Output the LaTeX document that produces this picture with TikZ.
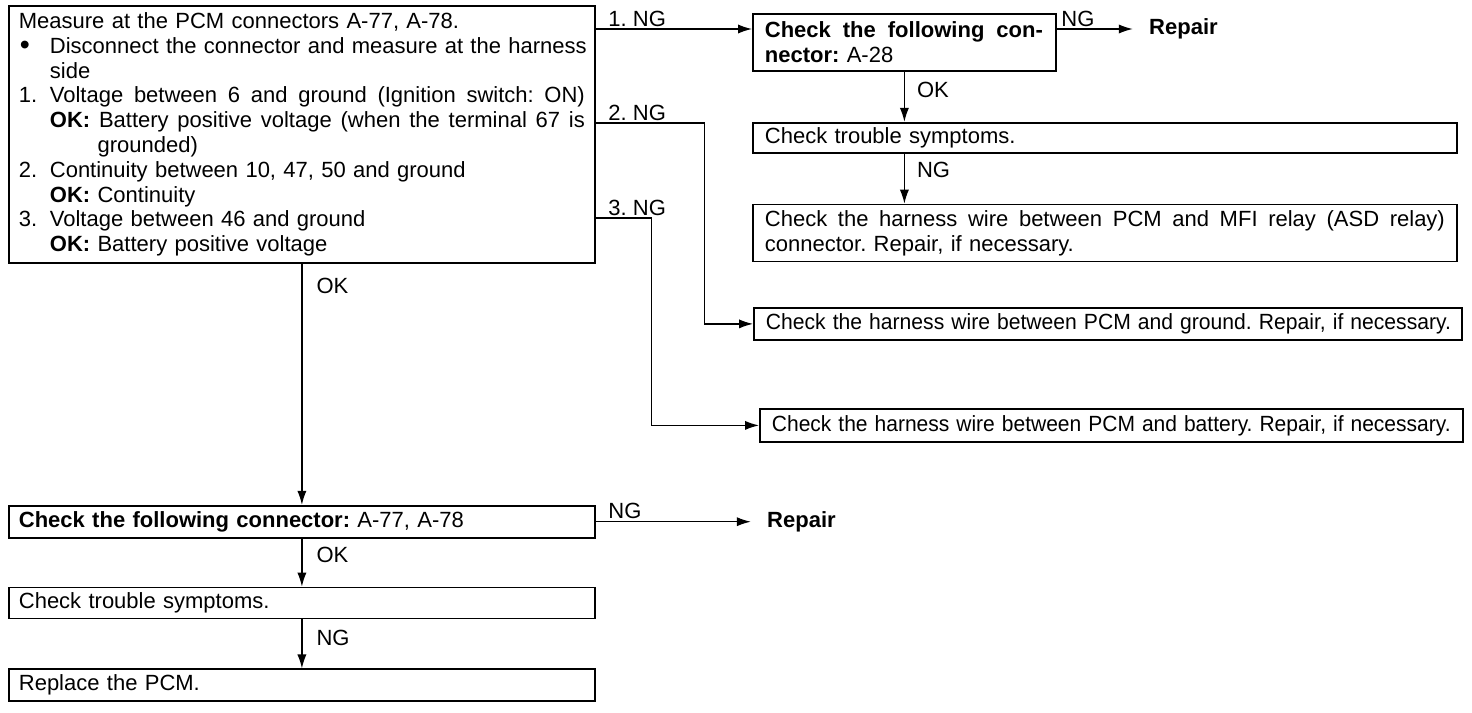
\documentclass[tikz,border=0pt]{standalone}
\usepackage{fontspec}
\setmainfont{Liberation Sans}
\usepackage{graphicx}
\usetikzlibrary{positioning,arrows.meta,calc}
\frenchspacing

\newcommand{\jl}[2]{{\spaceskip=0.3333em plus 1em\xspaceskip=0pt\makebox[#1][s]{#2}}}
\newcommand{\itm}[2]{\makebox[15.5pt][l]{#1}#2}

\begin{document}
\begin{tikzpicture}[x=0.5pt,y=-0.5pt,
      box/.style={rectangle,draw,line width=0.9pt,anchor=north west,align=left,inner xsep=5pt,inner ysep=1pt,font=\fontsize{11}{12.4}\selectfont},
      lbl/.style={font=\fontsize{11}{12.4}\selectfont,inner sep=1pt},
      rep/.style={font=\fontsize{11}{12.4}\selectfont\bfseries,inner xsep=8pt,inner ysep=1pt},
      arr/.style={line width=0.65pt,-{Latex[length=7pt,width=4.6pt]}}
    ]
    \useasboundingbox (0,0) rectangle (1472,712);

    \node[box,text width=283pt,minimum height=128.5pt] (m) at (8,5) {%
      Measure at the PCM connectors A-77, A-78.\\
      \itm{\hspace{0.5pt}\raisebox{-0.4pt}{\scalebox{1.3}{\textbullet}}}{\jl{267.5pt}{Disconnect the connector and measure at the harness}}\\
      \itm{}{side}\\
      \itm{1.}{\jl{267.5pt}{Voltage between 6 and ground (Ignition switch: ON)}}\\
      \itm{}{\jl{267.5pt}{\textbf{OK:} Battery positive voltage (when the terminal 67 is}}\\
      \itm{}{\phantom{\textbf{OK:} }grounded)}\\
      \itm{2.}{Continuity between 10, 47, 50 and ground}\\
      \itm{}{\textbf{OK:} Continuity}\\
      \itm{3.}{Voltage between 46 and ground}\\
      \itm{}{\textbf{OK:} Battery positive voltage}};

    \node[box,inner xsep=6pt,text width=139.5pt,minimum height=28.5pt] (b) at (752,13) {%
      \jl{139pt}{\textbf{Check the following con-}}\\\textbf{nector:} A-28};
    \node[box,inner xsep=6pt,text width=340pt,minimum height=15pt,below=25pt of b.south west,anchor=north west] (c) {Check trouble symptoms.};
    \node[box,inner xsep=6pt,text width=340pt,minimum height=28.5pt,below=25pt of c.south west,anchor=north west] (d) {%
      \jl{340pt}{Check the harness wire between PCM and MFI relay (ASD relay)}\\connector. Repair, if necessary.};
    \node[box,inner xsep=6pt,text width=342pt,minimum height=16pt] (e) at (753,307) {%
      \scalebox{0.96}[1]{Check the harness wire between PCM and ground. Repair, if necessary.}};
    \node[box,inner xsep=6pt,text width=339.5pt,minimum height=16.5pt] (f) at (759,408) {%
      \scalebox{0.955}[1]{Check the harness wire between PCM and battery. Repair, if necessary.}};
    \node[rep,anchor=west] (r1) at ($(b.north east)+(76,16)$) {Repair};

    \node[box,text width=283pt,minimum height=16pt,below=120.5pt of m.south west,anchor=north west] (g) {%
      \textbf{Check the following connector:} A-77, A-78};
    \node[box,text width=283pt,minimum height=15.5pt,below=24pt of g.south west,anchor=north west] (h) {Check trouble symptoms.};
    \node[box,text width=283pt,minimum height=16pt,below=24.5pt of h.south west,anchor=north west] (i) {Replace the PCM.};
    \node[rep,right=77.5pt of g] (r2) {Repair};

    \draw[arr] ([yshift=-12pt]m.north east) -- node[lbl,pos=0,anchor=south west,xshift=5pt]{1. NG} ([yshift=-12pt]m.north east -| b.west);
    \draw[arr] ([yshift=-59pt]m.north east) -- node[lbl,pos=0,anchor=south west,xshift=5pt]{2. NG} ++(109,0) |- (e.west);
    \draw[arr] ([yshift=-106.5pt]m.north east) -- node[lbl,pos=0,anchor=south west,xshift=5pt]{3. NG} ++(56,0) |- (f.west);
    \draw[arr] (r1.west -| b.east) -- node[lbl,pos=0,anchor=south west,xshift=1pt]{NG} (r1);
    \draw[arr] (b.south) -- node[lbl,pos=0.36,right=5pt]{OK} (b.south |- c.north);
    \draw[arr] (b.south |- c.south) -- node[lbl,pos=0.32,right=5pt]{NG} (b.south |- d.north);

    \draw[arr] (m.south) -- node[lbl,pos=0.09,right=6pt]{OK} (g.north);
    \draw[arr] (g.east) -- node[lbl,pos=0,anchor=south west,xshift=5pt]{NG} (r2);
    \draw[arr] (g.south) -- node[lbl,pos=0.33,right=6pt]{OK} (h.north);
    \draw[arr] (h.south) -- node[lbl,pos=0.37,right=6pt]{NG} (i.north);

  \end{tikzpicture}
\end{document}
